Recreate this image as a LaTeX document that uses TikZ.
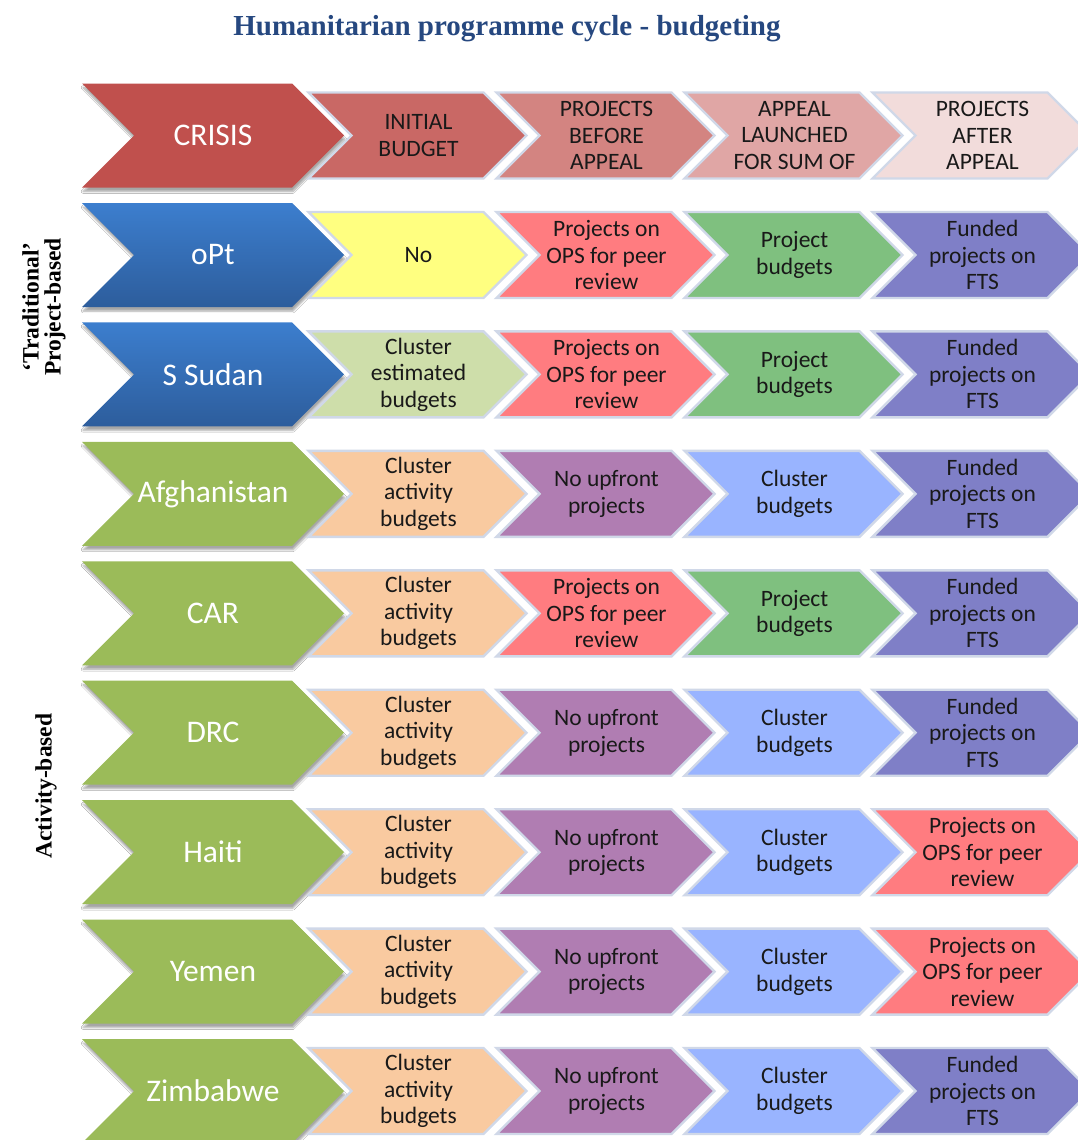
\documentclass[tikz,border=0pt]{standalone}
\usepackage{fontspec}
\setmainfont{Liberation Serif}
\newfontfamily\carlito{Carlito}
\usetikzlibrary{shadows.blur}
\definecolor{crisis}{RGB}{192,80,77}
\definecolor{hA}{RGB}{201,104,101}
\definecolor{hB}{RGB}{211,132,129}
\definecolor{hC}{RGB}{224,166,165}
\definecolor{hD}{RGB}{242,220,219}
\definecolor{blueT}{RGB}{60,126,206}
\definecolor{blueB}{RGB}{45,93,156}
\definecolor{cgreen}{RGB}{155,187,89}
\definecolor{cyellow}{RGB}{255,255,128}
\definecolor{clgreen}{RGB}{206,222,170}
\definecolor{csalmon}{RGB}{255,124,128}
\definecolor{cpgreen}{RGB}{127,192,127}
\definecolor{cfund}{RGB}{127,127,199}
\definecolor{cpeach}{RGB}{249,202,160}
\definecolor{cmauve}{RGB}{176,125,178}
\definecolor{clblue}{RGB}{153,180,255}
\definecolor{edge}{RGB}{208,216,232}
\definecolor{titleblue}{RGB}{38,72,128}
\tikzset{
  bigshape/.style={blur shadow={shadow xshift=1pt,shadow yshift=-4pt,shadow blur steps=6,shadow opacity=35}},
  smallshape/.style={draw=edge,line width=2.4pt,line join=miter},
  bigtxt/.style={text=white,align=center,font=\carlito\fontsize{31.5}{34}\selectfont},
  smalltxt/.style={text=black!90,align=center,font=\carlito\fontsize{23.5}{26.5}\selectfont},
  sidelabel/.style={rotate=90,align=center,font=\bfseries\fontsize{23.5}{22}\selectfont},
  crisisfill/.style={fill=crisis},
  bluefill/.style={top color=blueT,bottom color=blueB},
  greenfill/.style={fill=cgreen}
}
% big chevron: name, centre y, fill style, text
\newcommand\bigchev[4]{%
  \path[bigshape,#3] (82,#2-52) -- (292,#2-52) -- (344,#2) -- (292,#2+52) -- (82,#2+52) -- (134,#2) -- cycle;
  \node[bigtxt] (#1) at (213,#2) {#4};}
% small chevron: name, centre x, centre y, fill colour, text
\newcommand\smallchev[5]{%
  \path[smallshape,fill=#4] (#2-109,#3-43) -- (#2+66,#3-43) -- (#2+109,#3) -- (#2+66,#3+43) -- (#2-109,#3+43) -- (#2-66,#3) -- cycle;
  \node[smalltxt] (#1) at (#2+1,#3) {#5};}
\begin{document}
\begin{tikzpicture}[x=1pt,y=-1pt]
\useasboundingbox (0,0) rectangle (1078,1140);
\fill[white] (0,0) rectangle (1078,1140);
\node[text=titleblue,font=\bfseries\fontsize{29}{31}\selectfont] (title) at (507,29) {Humanitarian programme cycle - budgeting};
\node[sidelabel] (labtrad) at (44,307) {‘Traditional’\\Project-based};
\node[sidelabel] (labact) at (46,786) {Activity-based};
% row 1
\bigchev{crisisN}{135.5}{crisisfill}{CRISIS}
\smallchev{h1}{417.5}{135.5}{hA}{INITIAL\\BUDGET}
\smallchev{h2}{605.5}{135.5}{hB}{PROJECTS\\BEFORE\\APPEAL}
\smallchev{h3}{793.5}{135.5}{hC}{APPEAL\\LAUNCHED\\FOR SUM OF}
\smallchev{h4}{981.5}{135.5}{hD}{PROJECTS\\AFTER\\APPEAL}
% row 2
\bigchev{opt}{255}{bluefill}{oPt}
\smallchev{opt1}{417.5}{255}{cyellow}{No}
\smallchev{opt2}{605.5}{255}{csalmon}{Projects on\\OPS for peer\\review}
\smallchev{opt3}{793.5}{255}{cpgreen}{Project\\budgets}
\smallchev{opt4}{981.5}{255}{cfund}{Funded\\projects on\\FTS}
% row 3
\bigchev{ssd}{374.4}{bluefill}{S Sudan}
\smallchev{ssd1}{417.5}{374.4}{clgreen}{Cluster\\estimated\\budgets}
\smallchev{ssd2}{605.5}{374.4}{csalmon}{Projects on\\OPS for peer\\review}
\smallchev{ssd3}{793.5}{374.4}{cpgreen}{Project\\budgets}
\smallchev{ssd4}{981.5}{374.4}{cfund}{Funded\\projects on\\FTS}
% row 4
\bigchev{afg}{493.8}{greenfill}{Afghanistan}
\smallchev{afg1}{417.5}{493.8}{cpeach}{Cluster\\activity\\budgets}
\smallchev{afg2}{605.5}{493.8}{cmauve}{No upfront\\projects}
\smallchev{afg3}{793.5}{493.8}{clblue}{Cluster\\budgets}
\smallchev{afg4}{981.5}{493.8}{cfund}{Funded\\projects on\\FTS}
% row 5
\bigchev{car}{613.3}{greenfill}{CAR}
\smallchev{car1}{417.5}{613.3}{cpeach}{Cluster\\activity\\budgets}
\smallchev{car2}{605.5}{613.3}{csalmon}{Projects on\\OPS for peer\\review}
\smallchev{car3}{793.5}{613.3}{cpgreen}{Project\\budgets}
\smallchev{car4}{981.5}{613.3}{cfund}{Funded\\projects on\\FTS}
% row 6
\bigchev{drc}{732.7}{greenfill}{DRC}
\smallchev{drc1}{417.5}{732.7}{cpeach}{Cluster\\activity\\budgets}
\smallchev{drc2}{605.5}{732.7}{cmauve}{No upfront\\projects}
\smallchev{drc3}{793.5}{732.7}{clblue}{Cluster\\budgets}
\smallchev{drc4}{981.5}{732.7}{cfund}{Funded\\projects on\\FTS}
% row 7
\bigchev{hti}{852.2}{greenfill}{Haiti}
\smallchev{hti1}{417.5}{852.2}{cpeach}{Cluster\\activity\\budgets}
\smallchev{hti2}{605.5}{852.2}{cmauve}{No upfront\\projects}
\smallchev{hti3}{793.5}{852.2}{clblue}{Cluster\\budgets}
\smallchev{hti4}{981.5}{852.2}{csalmon}{Projects on\\OPS for peer\\review}
% row 8
\bigchev{yem}{971.6}{greenfill}{Yemen}
\smallchev{yem1}{417.5}{971.6}{cpeach}{Cluster\\activity\\budgets}
\smallchev{yem2}{605.5}{971.6}{cmauve}{No upfront\\projects}
\smallchev{yem3}{793.5}{971.6}{clblue}{Cluster\\budgets}
\smallchev{yem4}{981.5}{971.6}{csalmon}{Projects on\\OPS for peer\\review}
% row 9
\bigchev{zwe}{1091}{greenfill}{Zimbabwe}
\smallchev{zwe1}{417.5}{1091}{cpeach}{Cluster\\activity\\budgets}
\smallchev{zwe2}{605.5}{1091}{cmauve}{No upfront\\projects}
\smallchev{zwe3}{793.5}{1091}{clblue}{Cluster\\budgets}
\smallchev{zwe4}{981.5}{1091}{cfund}{Funded\\projects on\\FTS}
\end{tikzpicture}
\end{document}
